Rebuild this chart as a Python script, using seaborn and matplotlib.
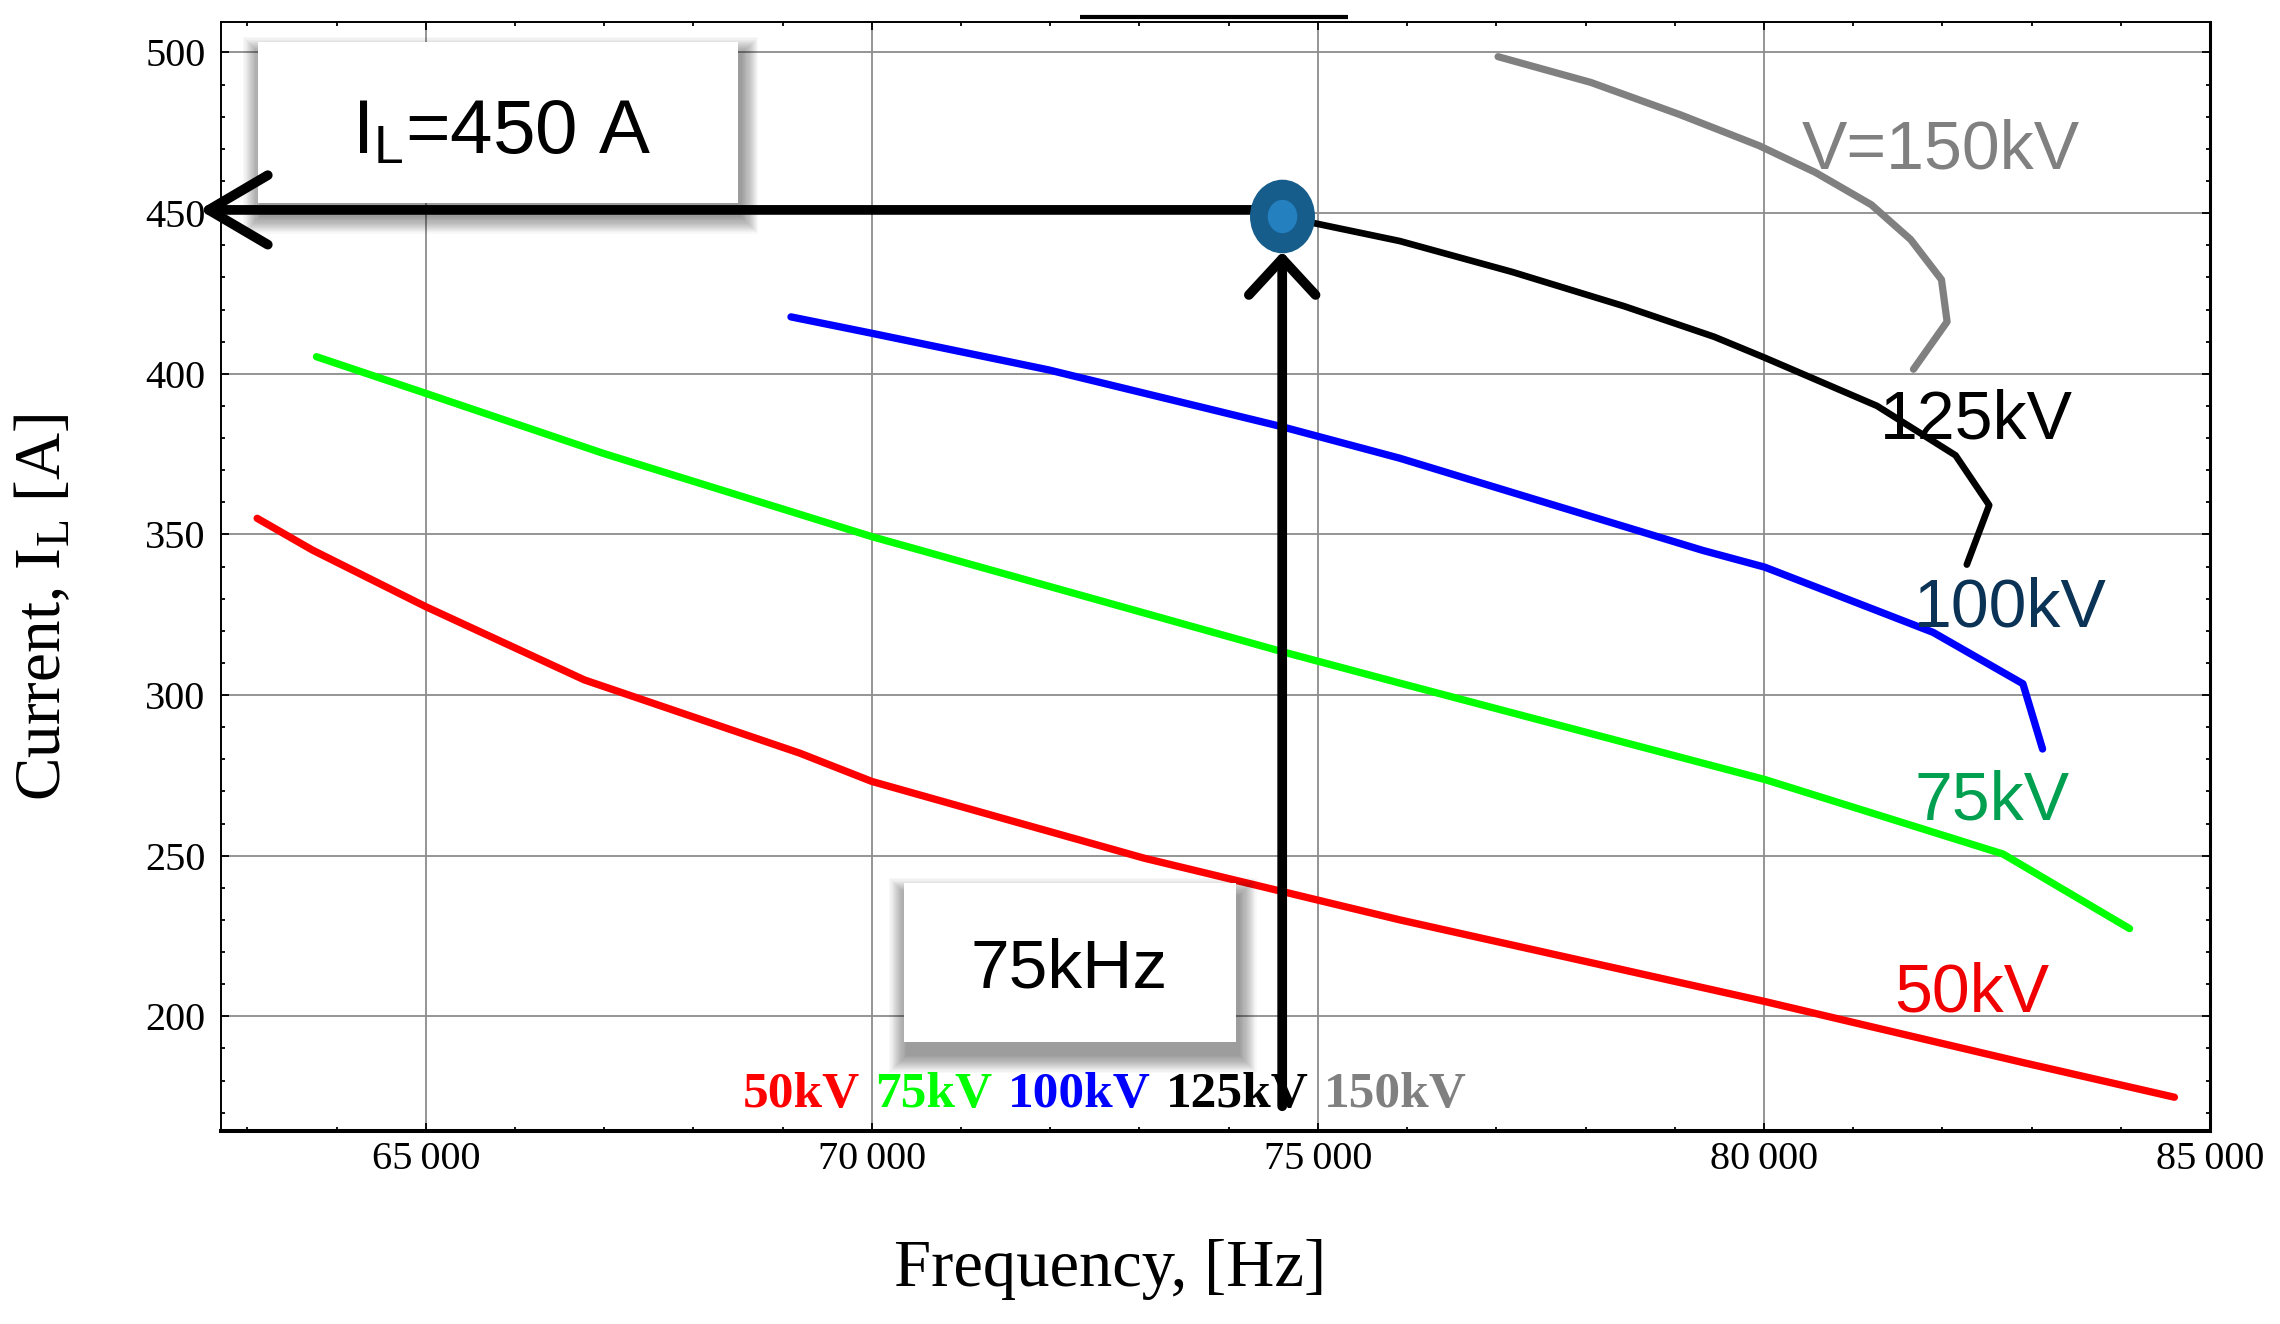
import numpy as np
import pandas as pd
import matplotlib
matplotlib.use('Agg')
import matplotlib.pyplot as plt
import seaborn as sns
from matplotlib.patches import Rectangle
from matplotlib.path import Path
from matplotlib.transforms import Affine2D
from matplotlib.ticker import MultipleLocator, FuncFormatter

# curves: frequency [Hz] -> current I_L [A]
freq_50kv = [63110, 63731, 65000, 66778, 69193, 70000, 73054, 75919, 80009, 82903, 84601]
curr_50kv = [355.0, 345.1, 327.5, 304.7, 281.9, 273.1, 249.2, 230.0, 204.6, 185.6, 174.8]

freq_75kv = [63775, 65000, 66992, 70000, 74599, 75919, 80009, 82680, 84098]
curr_75kv = [405.3, 393.9, 375.2, 349.3, 313.5, 303.7, 273.7, 250.5, 227.3]

freq_100kv = [69094, 70000, 71982, 74599, 75919, 79316, 80009, 81896, 82903, 83123]
curr_100kv = [417.7, 412.6, 401.2, 383.5, 373.7, 345.0, 339.8, 319.5, 303.5, 283.2]

freq_125kv = [74593, 75919, 77177, 78436, 79443, 80009, 81267, 82148, 82525, 82274]
curr_125kv = [449.0, 441.3, 431.7, 421.0, 411.5, 405.0, 390.0, 374.6, 359.1, 340.6]

freq_150kv = [77020, 78058, 79064, 79945, 80575, 81204, 81644, 81990, 82053, 81676]
curr_150kv = [498.7, 490.7, 480.6, 471.0, 462.7, 452.6, 441.8, 429.3, 416.2, 401.4]

voltages = ['50kV', '75kV', '100kV', '125kV', '150kV']

# operating point and guide arrows
op_freq = 74600
op_current = 449
arrow_current = 451
arrow_tip_freq = 62460      # horizontal arrow ends just left of the y axis
arrow_base_current = 172    # vertical arrow starts near the bottom
arrow_tip_current = 438

# labels next to the curves
curve_labels = ['50kV', '75kV', '100kV', '125kV', 'V=150kV']
curve_label_freq = [82335, 82556, 82758, 82383, 81984]
curve_label_curr = [201.6, 261.2, 321.3, 379.9, 463.9]
curve_label_colors = ['#f00000', '#00a050', '#0b3356', '#000000', '#808080']

xticks = [65000, 70000, 75000, 80000, 85000]
yticks = [200, 250, 300, 350, 400, 450, 500]

df = pd.concat([
    pd.DataFrame({'Frequency': f, 'Current': c, 'Voltage': v})
    for f, c, v in zip([freq_50kv, freq_75kv, freq_100kv, freq_125kv, freq_150kv],
                       [curr_50kv, curr_75kv, curr_100kv, curr_125kv, curr_150kv],
                       voltages)
], ignore_index=True)

line_style = {'50kV': ('#ff0000', 5.3), '75kV': ('#00ff00', 5.3), '100kV': ('#0000ff', 5.3),
              '125kV': ('#000000', 4.8), '150kV': ('#808080', 5.2)}

sns.set_style('ticks', {'text.color': 'black', 'axes.labelcolor': 'black',
                        'xtick.color': 'black', 'ytick.color': 'black'})
plt.rcParams['font.family'] = ['Liberation Serif', 'DejaVu Serif']
plt.rcParams['mathtext.fontset'] = 'custom'
plt.rcParams['mathtext.rm'] = 'Liberation Serif'
plt.rcParams['mathtext.sf'] = 'Liberation Sans'
plt.rcParams['mathtext.it'] = 'Liberation Serif:italic'
plt.rcParams['mathtext.bf'] = 'Liberation Serif:bold'

fig = plt.figure(figsize=(22.8, 13.24), dpi=100)
ax = fig.add_axes([0.0969, 0.1458, 0.8724, 0.8376])

for v in voltages:
    col, lw = line_style[v]
    sns.lineplot(data=df[df['Voltage'] == v], x='Frequency', y='Current', sort=False,
                 estimator=None, color=col, lw=lw, ax=ax, legend=False, zorder=2)

ax.set_xlim(62704, 85000)
ax.set_ylim(164.3, 509.5)
ax.set_xticks(xticks)
ax.set_yticks(yticks)
ax.xaxis.set_minor_locator(MultipleLocator(1000))
ax.yaxis.set_minor_locator(MultipleLocator(10))
ax.xaxis.set_major_formatter(FuncFormatter(lambda v, p: f'{int(v):,}'.replace(',', '\u2009')))
ax.tick_params(which='both', direction='in', top=True, right=True, color='black', width=1.3)
ax.tick_params(which='major', length=5.5)
ax.tick_params(which='minor', length=3)
ax.tick_params(axis='x', labelsize=29, pad=7, labelcolor='black')
ax.tick_params(axis='y', labelsize=29, pad=11, labelcolor='black')
ax.grid(True, which='major', color='#8c8c8c', lw=1.3)
ax.set_axisbelow(True)
for side, w in [('bottom', 2.9), ('right', 2.2), ('top', 1.4), ('left', 1.4)]:
    ax.spines[side].set_linewidth(w)
    ax.spines[side].set_color('black')

ax.set_xlabel('Frequency, [Hz]', fontsize=48, va='center', color='black')
ax.xaxis.set_label_coords(0.447, -0.125)
ax.set_ylabel('Current, I$_{\\mathrm{L}}$ [A]', fontsize=47, va='center', ha='center',
              color='black')
ax.yaxis.set_label_coords(-0.089, 0.472)


def shadow_box(x0, y0, x1, y1):
    # white box with a soft drop shadow, axes-fraction coordinates
    sx, sy = 1.0 / ax.bbox.width, 1.0 / ax.bbox.height
    for k in range(16, 0, -1):
        g = k * 1.1
        ax.add_patch(Rectangle((x0 - g * sx + 3 * sx, y0 - g * sy - 13 * sy),
                               (x1 - x0) + 2 * g * sx, (y1 - y0) + 2 * g * sy,
                               transform=ax.transAxes, facecolor='black', edgecolor='none',
                               alpha=0.028, zorder=3))
    ax.add_patch(Rectangle((x0, y0), x1 - x0, y1 - y0, transform=ax.transAxes,
                           facecolor='white', edgecolor='none', zorder=3.1))


shadow_box(0.0186, 0.8368, 0.2599, 0.982)
ax.text(0.1413, 0.881, 'I$_{\\mathsf{L}}$=450 A', transform=ax.transAxes, ha='center',
        va='baseline', fontsize=55, family='Liberation Sans', color='black', zorder=4)
shadow_box(0.3434, 0.0802, 0.5103, 0.2236)
ax.text(0.4263, 0.129, '75kHz', transform=ax.transAxes, ha='center', va='baseline',
        fontsize=50, family='Liberation Sans', color='black', zorder=4)

# guide arrows towards the axes
ax.annotate('', xy=(arrow_tip_freq, arrow_current), xytext=(op_freq, arrow_current),
            annotation_clip=False,
            arrowprops=dict(arrowstyle='->,head_length=0.85,head_width=0.5', lw=7,
                            color='black', mutation_scale=50, shrinkA=0, shrinkB=0,
                            capstyle='round', joinstyle='round'), zorder=6)
ax.annotate('', xy=(op_freq, arrow_tip_current), xytext=(op_freq, arrow_base_current),
            annotation_clip=False,
            arrowprops=dict(arrowstyle='->,head_length=0.52,head_width=0.48', lw=7,
                            color='black', mutation_scale=50, shrinkA=0, shrinkB=0,
                            capstyle='round', joinstyle='round'), zorder=6)

# slightly tall elliptical marker at the operating point
ellipse = Path.unit_circle().transformed(Affine2D().scale(0.88, 1.0))
ax.plot([op_freq], [op_current], marker=ellipse, ls='none', ms=52, color='#165d8c',
        mec='#165d8c', zorder=8)
ax.plot([op_freq], [op_current], marker=ellipse, ls='none', ms=23, color='#2580c0',
        mec='#2580c0', zorder=9)

# short line above the frame
ax.plot([0.4319, 0.5666], [1.0042, 1.0042], color='black', lw=3, transform=ax.transAxes,
        clip_on=False, solid_capstyle='butt')

for txt, fx, cy, col in zip(curve_labels, curve_label_freq, curve_label_curr, curve_label_colors):
    ax.text(fx, cy, txt, color=col, fontsize=49, family='Liberation Sans',
            ha='center', va='baseline', zorder=5)

# colour key along the bottom
key_colors = [line_style[v][0] for v in voltages]
t = ax.text(68554, 171.9, voltages[0], color=key_colors[0], fontsize=37,
            fontweight='bold', ha='left', va='baseline', zorder=5)
for v, col in zip(voltages[1:], key_colors[1:]):
    t = ax.annotate(v, xy=(1, 0), xycoords=t, xytext=(11, 0), textcoords='offset points',
                    color=col, fontsize=37, fontweight='bold', ha='left', va='bottom',
                    zorder=5)

fig.savefig('out.png', dpi=100, facecolor='white')
